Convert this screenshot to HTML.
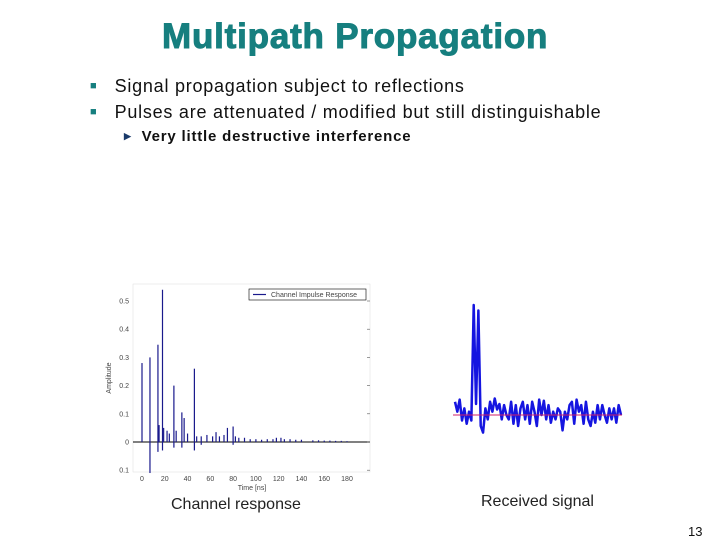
<!DOCTYPE html>
<html><head><meta charset="utf-8"><style>
body{margin:0;width:720px;height:540px;background:#fff;position:relative;overflow:hidden;font-family:"Liberation Sans",sans-serif}
.t{position:absolute;white-space:nowrap}
</style></head><body>
<div class="t" style="left:162px;top:17px;font-size:35px;font-weight:bold;color:#167f7f;letter-spacing:0.8px;-webkit-text-stroke:1px #167f7f">Multipath Propagation</div>
<div class="t" style="left:90px;top:76px;font-size:18px;color:#111;letter-spacing:0.75px"><span style="color:#167f7f;font-size:11px;position:relative;top:-3px">■</span>&nbsp;&nbsp;&nbsp;Signal propagation subject to reflections</div>
<div class="t" style="left:90px;top:102px;font-size:18px;color:#111;letter-spacing:0.75px"><span style="color:#167f7f;font-size:11px;position:relative;top:-3px">■</span>&nbsp;&nbsp;&nbsp;Pulses are attenuated / modified but still distinguishable</div>
<div class="t" style="left:124px;top:128px;font-size:15px;color:#111;letter-spacing:0.8px;font-weight:bold"><span style="color:#1a3a6a;font-size:9px;position:relative;top:-2px">▶</span>&nbsp;&nbsp;Very little destructive interference</div>
<svg width="720" height="540" style="position:absolute;left:0;top:0">
<g id="cir" font-family="Liberation Sans" font-size="7" fill="#444"></g>
<g id="rx"></g>
</svg>
<div class="t" style="left:171px;top:496px;font-size:16px;color:#222">Channel response</div>
<div class="t" style="left:481px;top:493px;font-size:16px;color:#222">Received signal</div>
<div class="t" style="left:688px;top:524px;font-size:13px;color:#111">13</div>
<script>
const pulseTimes=[0,7,14,15,18,19,22,24,28,30,35,37,40,46,48,52,57,62,65,68,72,75,80,82,85,90,95,100,105,110,115,118,122,125,130,135,140,150,155,160,165,170,175,180];
const pulseAmps=[0.28,0.30,0.345,0.06,0.54,0.05,0.04,0.03,0.2,0.04,0.105,0.085,0.03,0.26,0.02,0.02,0.025,0.02,0.035,0.02,0.025,0.05,0.055,0.02,0.015,0.015,0.01,0.01,0.008,0.01,0.01,0.015,0.015,0.01,0.01,0.008,0.008,0.006,0.006,0.005,0.005,0.004,0.004,0.003];
const negTimes=[7,14,18,28,35,46,52,80];
const negAmps=[-0.11,-0.035,-0.03,-0.02,-0.02,-0.03,-0.01,-0.01];
const xTicks=[0,20,40,60,80,100,120,140,160,180];
const yTicks=[-0.1,0,0.1,0.2,0.3,0.4,0.5];
const yTickLabels=["0.1","0","0.1","0.2","0.3","0.4","0.5"];
const rxValues=[0.12,0.03,0.14,-0.05,0.06,-0.08,0.03,-0.05,1.0,0.1,0.95,-0.1,-0.16,0.06,-0.04,0.12,0.03,0.15,0.05,0.1,-0.04,0.09,0,-0.04,0.12,-0.08,0.09,-0.1,0.06,0.12,-0.04,0.09,-0.08,0.12,0.03,-0.1,0.14,0,0.13,-0.04,0.09,-0.07,0.03,-0.04,0.06,0.03,-0.14,0.03,-0.04,0.09,0.12,-0.08,0.14,0.03,0.09,-0.08,0.12,-0.04,-0.1,0.03,-0.07,0.09,-0.04,0.09,0,-0.07,0.06,-0.04,0.06,-0.07,0.09,0];
const NS="http://www.w3.org/2000/svg";
function mk(p,tag,a){const e=document.createElementNS(NS,tag);for(const k in a)e.setAttribute(k,a[k]);p.appendChild(e);return e;}
const g=document.getElementById('cir');
const X=t=>142+t*205/180, Y=v=>442-v*282;
const fr=mk(g,'rect',{x:133,y:284,width:237,height:188,fill:'none',stroke:'#ddd','stroke-width':0.5});

const ax=mk(g,'line',{x1:133,x2:370,y1:Y(0),y2:Y(0),stroke:'#000','stroke-width':1});

yTicks.forEach((v,i)=>{const t=mk(g,'text',{x:129,y:Y(v)+2.5,'text-anchor':'end'});t.textContent=yTickLabels[i];

mk(g,'line',{x1:367,x2:370,y1:Y(v),y2:Y(v),stroke:'#555','stroke-width':0.6});});
xTicks.forEach(v=>{const t=mk(g,'text',{x:X(v),y:481,'text-anchor':'middle'});t.textContent=v;
});
let tt=mk(g,'text',{x:252,y:490,'text-anchor':'middle'});tt.textContent='Time [ns]';

tt=mk(g,'text',{x:111,y:378,'text-anchor':'middle',transform:'rotate(-90 111 378)'});tt.textContent='Amplitude';

pulseTimes.forEach((t,i)=>{const l=mk(g,'line',{x1:X(t),x2:X(t),y1:Y(0),y2:Y(pulseAmps[i]),stroke:'#1a1a8c','stroke-width':1.2});
});
negTimes.forEach((t,i)=>{const l=mk(g,'line',{x1:X(t),x2:X(t),y1:Y(0),y2:Y(negAmps[i]),stroke:'#1a1a8c','stroke-width':1.2});
});
const lg=mk(g,'rect',{x:249,y:289,width:117,height:11,fill:'#fff',stroke:'#000','stroke-width':0.6});

mk(g,'line',{x1:253,x2:266,y1:294.5,y2:294.5,stroke:'#1a1a8c','stroke-width':1.2});
tt=mk(g,'text',{x:271,y:297});tt.textContent='Channel Impulse Response';

const r=document.getElementById('rx');
const RX=i=>455+i*(166/(rxValues.length-1)), RY=v=>415-v*110;
const pl=mk(r,'polyline',{points:rxValues.map((v,i)=>RX(i)+','+RY(v)).join(' '),fill:'none',stroke:'#1515e0','stroke-width':2.5,'stroke-linejoin':'round'});

const bl=mk(r,'line',{x1:453,x2:622,y1:RY(0),y2:RY(0),stroke:'#d0206a','stroke-width':1});

</script>
</body></html>
